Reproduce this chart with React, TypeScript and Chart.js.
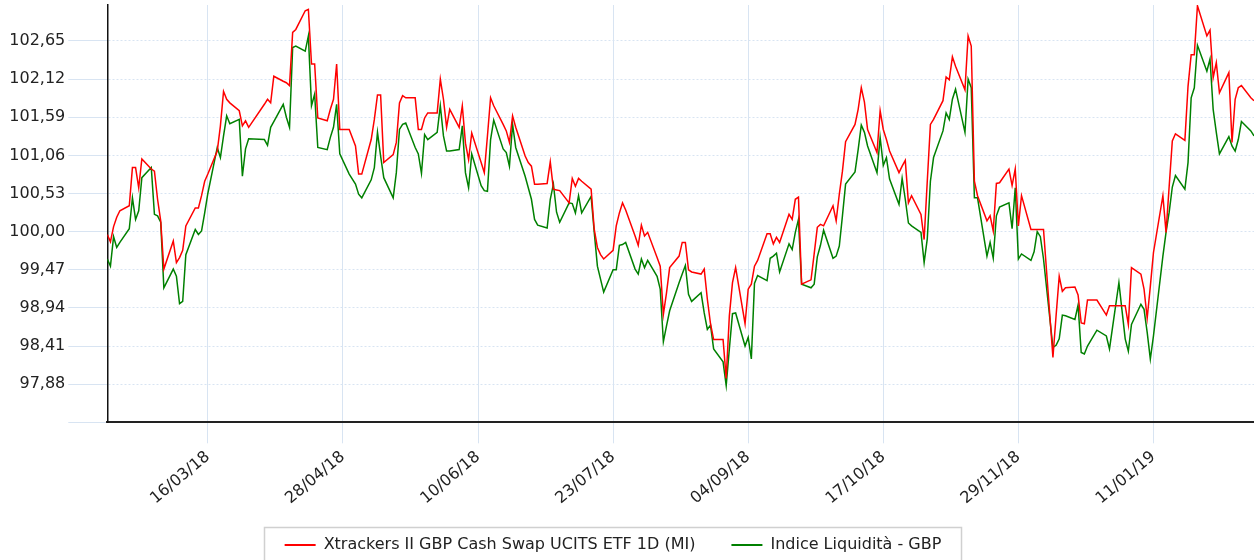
import React, { useEffect, useRef } from "react";
import { Chart, registerables } from "chart.js";

Chart.register(...registerables);

const seriesNames = ["Xtrackers II GBP Cash Swap UCITS ETF 1D (MI)", "Indice Liquidità - GBP"];
const seriesColors = ["#ff0000", "#008000"];

const tradingDates = [
  "2018-02-12","2018-02-13","2018-02-14","2018-02-15","2018-02-16","2018-02-19","2018-02-20","2018-02-21","2018-02-22","2018-02-23","2018-02-26","2018-02-27","2018-02-28",
  "2018-03-01","2018-03-02","2018-03-05","2018-03-06","2018-03-07","2018-03-08","2018-03-09","2018-03-12","2018-03-13","2018-03-14","2018-03-15","2018-03-16","2018-03-19","2018-03-20","2018-03-21","2018-03-22","2018-03-23","2018-03-26","2018-03-27","2018-03-28","2018-03-29",
  "2018-04-03","2018-04-04","2018-04-05","2018-04-06","2018-04-09","2018-04-10","2018-04-11","2018-04-12","2018-04-13","2018-04-16","2018-04-17","2018-04-18","2018-04-19","2018-04-20","2018-04-23","2018-04-24","2018-04-25","2018-04-26","2018-04-27","2018-04-30",
  "2018-05-02","2018-05-03","2018-05-04","2018-05-07","2018-05-08","2018-05-09","2018-05-10","2018-05-11","2018-05-14","2018-05-15","2018-05-16","2018-05-17","2018-05-18","2018-05-21","2018-05-22","2018-05-23","2018-05-24","2018-05-25","2018-05-28","2018-05-29","2018-05-30","2018-05-31",
  "2018-06-01","2018-06-04","2018-06-05","2018-06-06","2018-06-07","2018-06-08","2018-06-11","2018-06-12","2018-06-13","2018-06-14","2018-06-15","2018-06-18","2018-06-19","2018-06-20","2018-06-21","2018-06-22","2018-06-25","2018-06-26","2018-06-27","2018-06-28","2018-06-29",
  "2018-07-02","2018-07-03","2018-07-04","2018-07-05","2018-07-06","2018-07-09","2018-07-10","2018-07-11","2018-07-12","2018-07-13","2018-07-16","2018-07-17","2018-07-18","2018-07-19","2018-07-20","2018-07-23","2018-07-24","2018-07-25","2018-07-26","2018-07-27","2018-07-30","2018-07-31",
  "2018-08-01","2018-08-02","2018-08-03","2018-08-06","2018-08-07","2018-08-08","2018-08-09","2018-08-10","2018-08-13","2018-08-14","2018-08-15","2018-08-16","2018-08-17","2018-08-20","2018-08-21","2018-08-22","2018-08-23","2018-08-24","2018-08-27","2018-08-28","2018-08-29","2018-08-30","2018-08-31",
  "2018-09-03","2018-09-04","2018-09-05","2018-09-06","2018-09-07","2018-09-10","2018-09-11","2018-09-12","2018-09-13","2018-09-14","2018-09-17","2018-09-18","2018-09-19","2018-09-20","2018-09-21","2018-09-24","2018-09-25","2018-09-26","2018-09-27","2018-09-28",
  "2018-10-01","2018-10-02","2018-10-03","2018-10-04","2018-10-05","2018-10-08","2018-10-09","2018-10-10","2018-10-11","2018-10-12","2018-10-15","2018-10-16","2018-10-17","2018-10-18","2018-10-19","2018-10-22","2018-10-23","2018-10-24","2018-10-25","2018-10-26","2018-10-29","2018-10-30","2018-10-31",
  "2018-11-01","2018-11-02","2018-11-05","2018-11-06","2018-11-07","2018-11-08","2018-11-09","2018-11-12","2018-11-13","2018-11-14","2018-11-15","2018-11-16","2018-11-19","2018-11-20","2018-11-21","2018-11-22","2018-11-23","2018-11-26","2018-11-27","2018-11-28","2018-11-29","2018-11-30",
  "2018-12-03","2018-12-04","2018-12-05","2018-12-06","2018-12-07","2018-12-10","2018-12-11","2018-12-12","2018-12-13","2018-12-14","2018-12-17","2018-12-18","2018-12-19","2018-12-20","2018-12-21","2018-12-24","2018-12-27","2018-12-28","2018-12-31",
  "2019-01-02","2019-01-03","2019-01-04","2019-01-07","2019-01-08","2019-01-09","2019-01-10","2019-01-11","2019-01-14","2019-01-15","2019-01-16","2019-01-17","2019-01-18","2019-01-21","2019-01-22","2019-01-23","2019-01-24","2019-01-25","2019-01-28","2019-01-29","2019-01-30","2019-01-31",
  "2019-02-01","2019-02-04","2019-02-05","2019-02-06","2019-02-07","2019-02-08","2019-02-11","2019-02-12",
];

const xtrackersValues = [
  99.96,99.86,100.07,100.20,100.29,100.36,100.89,100.89,100.61,101.01,100.87,100.84,100.45,
  100.15,99.48,99.87,99.57,99.64,99.74,100.08,100.33,100.33,100.50,100.70,100.80,101.12,101.47,101.95,101.84,101.79,101.68,101.47,101.54,101.45,
  101.77,101.84,101.79,102.16,102.09,102.07,102.03,102.77,102.81,103.07,103.09,102.33,102.33,101.58,101.54,101.70,101.84,102.33,101.42,101.42,
  101.19,100.80,100.80,101.28,101.56,101.90,101.90,100.96,101.07,101.24,101.79,101.89,101.86,101.86,101.42,101.42,101.58,101.65,101.65,102.12,101.84,101.45,
  101.70,101.45,101.75,101.23,101.00,101.37,100.96,100.82,101.33,101.86,101.75,101.49,101.40,101.24,101.61,101.45,101.05,100.96,100.91,100.66,100.66,
  100.67,100.97,100.59,100.58,100.57,100.40,100.74,100.63,100.74,100.70,100.59,100.03,99.78,99.68,99.62,99.74,100.08,100.26,100.40,100.30,99.94,99.81,
  100.09,99.94,99.99,99.64,99.52,98.85,99.15,99.50,99.66,99.85,99.85,99.47,99.44,99.41,99.48,99.06,98.72,98.50,98.50,97.96,98.83,99.29,99.50,
  98.72,99.20,99.27,99.52,99.60,99.97,99.97,99.83,99.92,99.85,100.24,100.17,100.45,100.48,99.27,99.33,99.69,100.06,100.10,100.08,
  100.36,100.15,100.52,100.84,101.25,101.49,101.70,102.00,101.80,101.42,101.10,101.68,101.42,101.28,101.12,100.82,100.91,100.99,100.40,100.50,100.24,99.89,100.70,
  101.49,101.56,101.82,102.15,102.11,102.43,102.30,101.97,102.72,102.58,100.70,100.50,100.15,100.22,100.01,100.67,100.68,100.87,100.64,100.87,100.08,100.50,
  100.03,100.03,100.03,100.03,100.03,98.25,98.83,99.38,99.17,99.22,99.23,99.12,98.73,98.72,99.05,99.05,98.84,98.97,98.97,
  98.97,98.71,99.50,99.41,99.20,98.80,99.24,99.71,100.50,99.99,100.63,101.26,101.36,101.27,102.02,102.46,102.46,103.14,102.72,102.80,102.14,102.35,
  101.93,102.21,101.24,101.84,102.00,102.03,101.86,101.82,
];

const indexValues = [
  99.62,99.52,99.93,99.78,99.85,100.04,100.47,100.17,100.29,100.75,100.89,100.24,100.22,
  100.13,99.22,99.48,99.38,99.00,99.03,99.68,100.03,99.96,100.01,100.26,100.53,101.17,101.03,101.33,101.61,101.50,101.56,100.77,101.15,101.29,
  101.28,101.20,101.45,101.53,101.77,101.59,101.45,102.56,102.58,102.51,102.72,101.75,101.91,101.17,101.14,101.31,101.45,101.77,101.08,100.80,
  100.66,100.52,100.47,100.72,100.89,101.38,101.05,100.75,100.47,100.82,101.42,101.49,101.51,101.17,101.08,100.81,101.35,101.28,101.38,101.75,101.33,101.12,
  101.12,101.14,101.47,100.82,100.61,101.08,100.64,100.57,100.56,101.28,101.55,101.15,101.10,100.91,101.49,101.17,100.77,100.61,100.45,100.17,100.09,
  100.05,100.45,100.66,100.27,100.13,100.40,100.39,100.26,100.50,100.26,100.49,99.99,99.52,99.34,99.16,99.47,99.47,99.81,99.82,99.85,99.48,99.41,
  99.62,99.50,99.60,99.38,99.20,98.47,98.69,98.90,99.29,99.41,99.53,99.13,99.03,99.15,98.87,98.64,98.70,98.37,98.19,97.86,98.37,98.86,98.87,
  98.41,98.53,98.23,99.28,99.39,99.32,99.63,99.66,99.70,99.44,99.83,99.75,99.99,100.17,99.27,99.22,99.27,99.65,99.81,100.02,
  99.63,99.66,99.80,100.22,100.66,100.83,101.14,101.48,101.38,101.19,100.82,101.31,100.92,101.03,100.73,100.38,100.74,100.45,100.12,100.08,99.99,99.57,99.90,
  100.70,101.03,101.40,101.65,101.56,101.84,101.98,101.38,102.12,102.00,100.47,100.47,99.66,99.85,99.63,100.22,100.34,100.40,100.04,100.61,99.62,99.69,
  99.60,99.72,100.00,99.93,99.62,98.39,98.42,98.51,98.84,98.83,98.78,98.98,98.32,98.30,98.41,98.63,98.55,98.37,99.29,
  98.51,98.34,98.71,98.99,98.92,98.60,98.23,98.55,99.66,99.99,100.27,100.62,100.78,100.59,100.96,101.86,102.00,102.59,102.23,102.40,101.70,101.38,
  101.08,101.32,101.19,101.12,101.28,101.53,101.40,101.33,
];

const xTickLabels = ["16/03/18", "28/04/18", "10/06/18", "23/07/18", "04/09/18", "17/10/18", "29/11/18", "11/01/19"];
const yTickValues = [97.35, 97.88, 98.41, 98.94, 99.47, 100.0, 100.53, 101.06, 101.59, 102.12, 102.65];
const xRange = ["2018-02-12", "2019-02-12"];
const yRange = [97.35, 103.15];

const DAY_MS = 86400000;
const isoToDay = (s: string) => {
  const [y, m, d] = s.split("-").map(Number);
  return Date.UTC(y, m - 1, d) / DAY_MS;
};
const dmyToDay = (s: string) => {
  const [d, m, y] = s.split("/").map(Number);
  return Date.UTC(2000 + y, m - 1, d) / DAY_MS;
};
const pad2 = (n: number) => String(n).padStart(2, "0");
const dayToDmy = (n: number) => {
  const dt = new Date(Math.round(n) * DAY_MS);
  return pad2(dt.getUTCDate()) + "/" + pad2(dt.getUTCMonth() + 1) + "/" + pad2(dt.getUTCFullYear() % 100);
};
const fmtY = (v: number) => v.toFixed(2).replace(".", ",");

const FONT_FAMILY = "'DejaVu Sans', Verdana, sans-serif";
const GRID_COLOR = "#d8e4f2";
const TEXT_COLOR = "#222222";

const boxLegendPlugin = {
  id: "boxLegend",
  afterDraw(chart: any) {
    const ctx = chart.ctx as CanvasRenderingContext2D;
    ctx.save();
    ctx.font = "16px " + FONT_FAMILY;
    const items = chart.data.datasets.map((ds: any) => ({
      text: ds.label as string,
      color: ds.borderColor as string,
      w: ctx.measureText(ds.label).width,
    }));
    const lineLen = 31;
    const gapText = 8;
    const gapItem = 36;
    const total =
      items.reduce((s: number, it: any) => s + lineLen + gapText + it.w, 0) + gapItem * (items.length - 1);
    const boxL = 264.5;
    const boxR = 961.5;
    const boxT = 527.5;
    ctx.strokeStyle = "#d0d0d0";
    ctx.lineWidth = 1.5;
    ctx.strokeRect(boxL, boxT, boxR - boxL, 60);
    let x = (boxL + boxR) / 2 - total / 2;
    const y = 545;
    ctx.textBaseline = "middle";
    ctx.textAlign = "left";
    for (const it of items) {
      ctx.fillStyle = it.color;
      ctx.fillRect(x, y - 1, lineLen, 2);
      x += lineLen + gapText;
      ctx.fillStyle = TEXT_COLOR;
      ctx.fillText(it.text, x, y);
      x += it.w + gapItem;
    }
    ctx.restore();
  },
};

export default function App() {
  const canvasRef = useRef<HTMLCanvasElement | null>(null);

  useEffect(() => {
    if (!canvasRef.current) return;
    const n = Math.min(tradingDates.length, xtrackersValues.length, indexValues.length);
    const xs = tradingDates.slice(0, n).map(isoToDay);
    const chart = new Chart(canvasRef.current, {
      type: "line",
      data: {
        datasets: [
          {
            label: seriesNames[0],
            data: xs.map((x, i) => ({ x, y: xtrackersValues[i] })),
            borderColor: seriesColors[0],
            backgroundColor: seriesColors[0],
            borderWidth: 1.5,
            pointRadius: 0,
            tension: 0,
            fill: false,
          },
          {
            label: seriesNames[1],
            data: xs.map((x, i) => ({ x, y: indexValues[i] })),
            borderColor: seriesColors[1],
            backgroundColor: seriesColors[1],
            borderWidth: 1.5,
            pointRadius: 0,
            tension: 0,
            fill: false,
          },
        ],
      },
      options: {
        animation: false,
        responsive: false,
        maintainAspectRatio: false,
        parsing: false,
        layout: { padding: { top: 5, left: 0, right: 0, bottom: 0 } },
        plugins: {
          legend: { display: false },
          tooltip: { enabled: false },
        },
        scales: {
          x: {
            type: "linear",
            min: isoToDay(xRange[0]),
            max: isoToDay(xRange[1]),
            afterBuildTicks: (scale: any) => {
              scale.ticks = xTickLabels.map((l) => ({ value: dmyToDay(l) }));
            },
            afterFit: (scale: any) => {
              scale.height = 560 - 422.3;
              scale.paddingLeft = 0;
              scale.paddingRight = 0;
            },
            ticks: {
              autoSkip: false,
              minRotation: 40,
              maxRotation: 40,
              padding: 4,
              color: TEXT_COLOR,
              font: { family: FONT_FAMILY, size: 16 },
              callback: (v: any) => dayToDmy(Number(v)),
            },
            grid: {
              color: GRID_COLOR,
              lineWidth: 1,
              tickLength: 21,
              tickColor: GRID_COLOR,
            },
            border: { color: "#222222", width: 2 },
          },
          y: {
            type: "linear",
            min: yRange[0],
            max: yRange[1],
            afterBuildTicks: (scale: any) => {
              scale.ticks = yTickValues.map((v) => ({ value: v }));
            },
            afterFit: (scale: any) => {
              scale.width = 107.3;
              scale.paddingTop = 0;
              scale.paddingBottom = 0;
            },
            ticks: {
              autoSkip: false,
              padding: 3,
              color: TEXT_COLOR,
              font: { family: FONT_FAMILY, size: 16 },
              callback: (v: any, i: number) => (i === 0 ? "" : fmtY(Number(v))),
            },
            grid: {
              color: GRID_COLOR,
              lineWidth: 1,
              tickLength: 39,
              tickColor: GRID_COLOR,
            },
            border: { color: "#111111", width: 1.5, dash: [2, 2] },
          },
        },
      },
      plugins: [boxLegendPlugin],
    } as any);
    return () => chart.destroy();
  }, []);

  return (
    <div style={{ position: "absolute", left: 0, top: 0, width: 1254, height: 560, background: "#ffffff" }}>
      <canvas ref={canvasRef} width={1254} height={560} style={{ display: "block" }} />
    </div>
  );
}
